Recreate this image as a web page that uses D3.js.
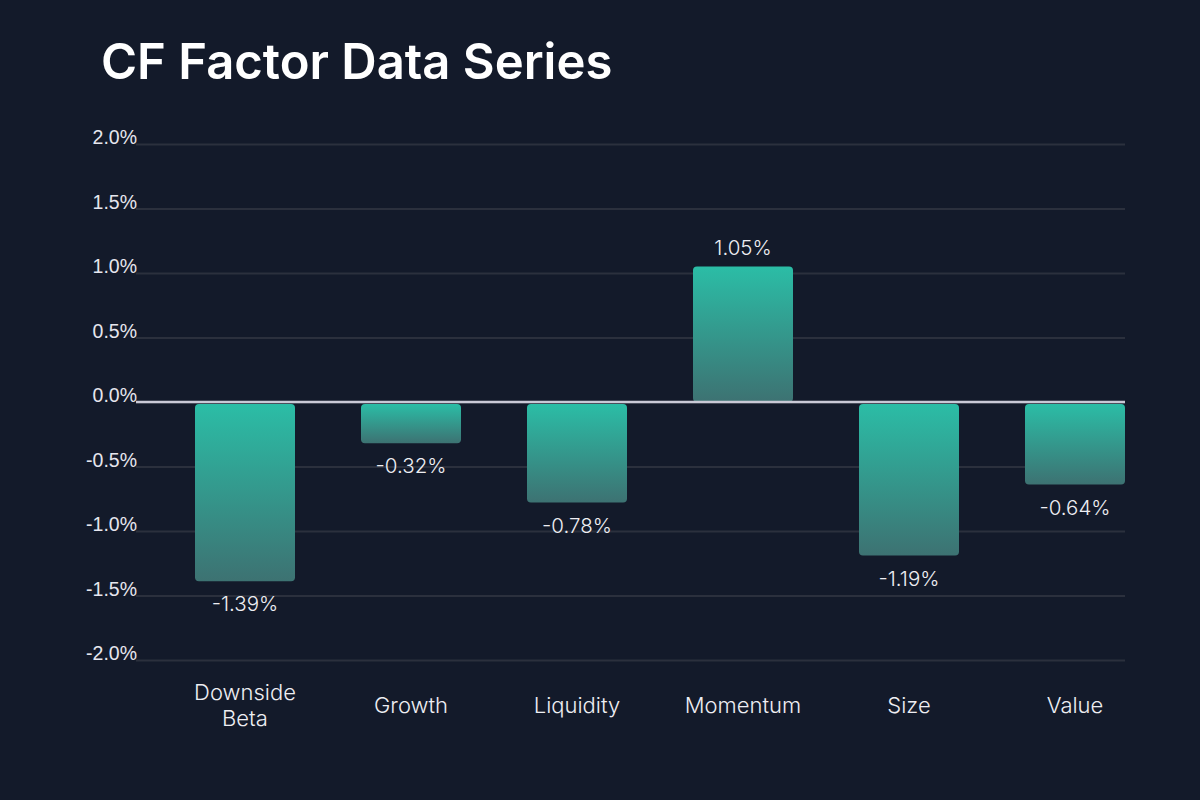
<!DOCTYPE html>
<html><head><meta charset="utf-8">
<script src="https://cdn.jsdelivr.net/npm/d3@7/dist/d3.min.js"></script>
<style>
html,body{margin:0;padding:0;background:#131a2a;}
svg{display:block;font-family:Inter,"Noto Sans",sans-serif;}
</style></head><body>
<svg id="c" width="1200" height="800"></svg>
<script>
const categories = ["Downside Beta","Growth","Liquidity","Momentum","Size","Value"];
const values = [-1.39,-0.32,-0.78,1.05,-1.19,-0.64];
const tickValues = [2.0,1.5,1.0,0.5,0.0,-0.5,-1.0,-1.5,-2.0];
const title = "CF Factor Data Series";

const svg = d3.select("#c");
svg.append("rect").attr("width",1200).attr("height",800).attr("fill","#131a2a");

const y = d3.scaleLinear().domain([-2,2]).range([660,144]);
const x = d3.scaleBand().domain(categories).range([195,1125]).paddingInner(66/166).paddingOuter(0);

const defs = svg.append("defs");
const grad = defs.append("linearGradient").attr("id","g").attr("x1",0).attr("y1",0).attr("x2",0).attr("y2",1);
grad.append("stop").attr("offset","0%").attr("stop-color","#2bbda6");
grad.append("stop").attr("offset","100%").attr("stop-color","#3d7272");

const hy = s => s.replace("\u2212","-");

svg.append("text").attr("x",101).attr("y",79).attr("fill","#ffffff")
  .attr("font-size",49).attr("font-weight",600).text(title);

// grid
const axis = d3.axisLeft(y).tickValues(tickValues).tickSize(-(1125-136)).tickFormat(d=>hy(d3.format(".1f")(d))+"%");
const ga = svg.append("g").attr("transform","translate(136,0)").call(axis);
ga.select(".domain").remove();
ga.selectAll(".tick line").attr("stroke","#2b303d").attr("stroke-width",2);
ga.selectAll(".tick text").attr("fill","#e6e6ee").attr("font-size",19.5).attr("font-weight",300)
  .attr("x",1).attr("dy","-0.02em").attr("text-anchor","end");

// bars
svg.append("g").selectAll("rect").data(values).join("rect")
  .attr("x",(d,i)=>x(categories[i]))
  .attr("width",x.bandwidth())
  .attr("y",d=> d>=0 ? y(d) : y(0)+2)
  .attr("height",d=> Math.abs(y(d)-y(0)) - (d>=0?0:2))
  .attr("rx",4).attr("fill","url(#g)");

// zero line
svg.append("line").attr("x1",136).attr("x2",1125).attr("y1",y(0)).attr("y2",y(0))
  .attr("stroke","#c9c9d6").attr("stroke-width",2.5);

// value labels
svg.append("g").selectAll("text").data(values).join("text")
  .attr("x",(d,i)=>x(categories[i])+x.bandwidth()/2)
  .attr("y",d=> d>=0 ? y(d)-12 : y(d)+30)
  .attr("text-anchor","middle").attr("fill","#eeeef3").attr("font-size",20.5).attr("font-weight",300)
  .text(d=>hy(d3.format(".2f")(d))+"%");

// category labels
const cl = svg.append("g").selectAll("text").data(categories).join("text")
  .attr("x",d=>x(d)+x.bandwidth()/2)
  .attr("text-anchor","middle").attr("fill","#eeeef3").attr("font-size",22).attr("font-weight",300);
cl.each(function(d){
  const words = d.split(" ");
  const t = d3.select(this);
  if(words.length===1){
    t.append("tspan").attr("x",x(d)+x.bandwidth()/2).attr("y",713).text(d);
  } else {
    words.forEach((w,k)=>t.append("tspan").attr("x",x(d)+x.bandwidth()/2).attr("y",700+k*26).text(w));
  }
});
</script></body></html>
